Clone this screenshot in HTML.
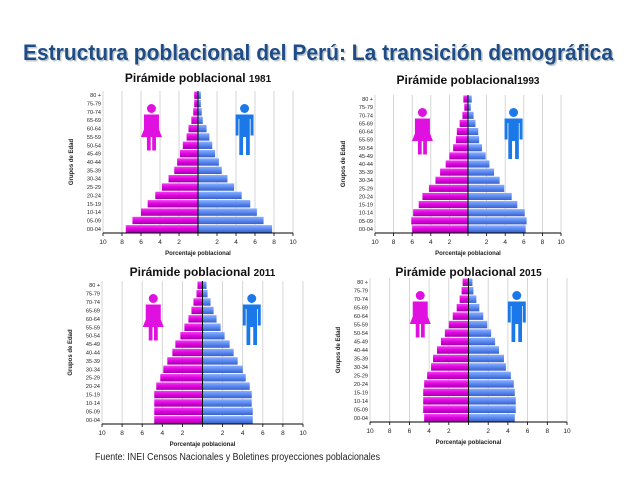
<!DOCTYPE html>
<html><head><meta charset="utf-8"><style>
html,body{margin:0;padding:0;background:#fff;}
svg{display:block;font-family:"Liberation Sans",sans-serif;}
</style></head><body>
<svg id="s" width="638" height="479" viewBox="0 0 638 479" xmlns="http://www.w3.org/2000/svg">
<defs>
<linearGradient id="gf" x1="0" y1="0" x2="0" y2="1"><stop offset="0" stop-color="#f040f0"/><stop offset="0.5" stop-color="#e000e0"/><stop offset="1" stop-color="#a000a8"/></linearGradient>
<linearGradient id="gm" x1="0" y1="0" x2="0" y2="1"><stop offset="0" stop-color="#8ab0ff"/><stop offset="0.5" stop-color="#5a88f0"/><stop offset="1" stop-color="#3a60c8"/></linearGradient>
</defs>
<text x="318" y="60" text-anchor="middle" font-size="22" font-weight="bold" fill="#9aa" opacity="0.6" textLength="590" lengthAdjust="spacingAndGlyphs" transform="translate(1.5,1.5)">Estructura poblacional del Perú: La transición demográfica</text>
<text x="318" y="60" text-anchor="middle" font-size="22" font-weight="bold" fill="#1f4c86" textLength="590" lengthAdjust="spacingAndGlyphs">Estructura poblacional del Perú: La transición demográfica</text>
<text x="95" y="460" font-size="10" fill="#222" textLength="285" lengthAdjust="spacingAndGlyphs">Fuente: INEI  Censos Nacionales y Boletines proyecciones poblacionales</text>
<g id="c"></g>
</svg>
<script>
var labels=["00-04","05-09","10-14","15-19","20-24","25-29","30-34","35-39","40-44","45-49","50-54","55-59","60-64","65-69","70-74","75-79","80 +"];
var charts=[
{t:"Pirámide poblacional ",y:"1981",L:103,R:293,top:91,bot:233,ty:82,
f:[7.6,6.9,6.0,5.3,4.5,3.8,3.1,2.5,2.2,1.9,1.6,1.2,1.0,0.7,0.5,0.4,0.4],
m:[7.8,6.9,6.2,5.5,4.6,3.8,3.1,2.5,2.2,1.8,1.5,1.2,0.9,0.5,0.4,0.3,0.3]},
{t:"Pirámide poblacional",y:"1993",L:375,R:561,top:95,bot:233,ty:84,
f:[6.0,6.1,5.9,5.3,4.9,4.2,3.5,3.0,2.4,2.0,1.6,1.3,1.2,0.9,0.6,0.4,0.5],
m:[6.2,6.3,6.1,5.3,4.7,3.9,3.4,2.8,2.3,1.9,1.5,1.2,1.1,0.8,0.6,0.3,0.4]},
{t:"Pirámide poblacional ",y:"2011",L:102,R:303,top:281,bot:424,ty:276,
f:[4.8,4.8,4.8,4.8,4.6,4.2,3.9,3.5,3.0,2.7,2.2,1.8,1.4,1.1,0.9,0.6,0.5],
m:[5.0,5.0,4.9,4.9,4.7,4.3,4.0,3.5,3.1,2.7,2.2,1.8,1.4,1.1,0.8,0.5,0.4]},
{t:"Pirámide poblacional ",y:"2015",L:370,R:567,top:278,bot:422,ty:276,
f:[4.5,4.6,4.6,4.6,4.5,4.2,3.8,3.6,3.2,2.8,2.4,2.0,1.6,1.2,0.9,0.7,0.6],
m:[4.7,4.8,4.8,4.7,4.6,4.3,3.8,3.6,3.1,2.7,2.3,1.9,1.5,1.1,0.8,0.5,0.4]}
];
var h="";
charts.forEach(function(c){
 var C=(c.L+c.R)/2, u=(c.R-c.L)/20, n=17, rh=(c.bot-c.top)/n;
 h+='<text x="'+C+'" y="'+c.ty+'" text-anchor="middle" font-size="12" font-weight="bold" fill="#111">'+c.t+'<tspan font-size="10">'+c.y+'</tspan></text>';
 for(var k=-10;k<=10;k+=2){var x=C+k*u;
  if(k!=0)h+='<line x1="'+x+'" y1="'+c.top+'" x2="'+x+'" y2="'+c.bot+'" stroke="#ccc" stroke-width="0.8"/>';
  h+='<line x1="'+x+'" y1="'+c.bot+'" x2="'+x+'" y2="'+(c.bot+3)+'" stroke="#000" stroke-width="0.8"/>';
  if(k!=0)h+='<text x="'+x+'" y="'+(c.bot+11)+'" text-anchor="middle" font-size="6.5" fill="#222">'+Math.abs(k)+'</text>';}
 for(var i=0;i<n;i++){var y=c.bot-(i+1)*rh+0.5, bh=rh-1;
  h+='<rect x="'+(C-c.f[i]*u)+'" y="'+y+'" width="'+(c.f[i]*u)+'" height="'+bh+'" fill="url(#gf)"/>';
  h+='<rect x="'+C+'" y="'+y+'" width="'+(c.m[i]*u)+'" height="'+bh+'" fill="url(#gm)"/>';
  h+='<text x="'+(c.L-2)+'" y="'+(y+bh/2+2)+'" text-anchor="end" font-size="5.5" fill="#222">'+labels[i]+'</text>';}
 h+='<line x1="'+c.L+'" y1="'+c.bot+'" x2="'+c.R+'" y2="'+c.bot+'" stroke="#000" stroke-width="1"/>';
 h+='<line x1="'+C+'" y1="'+c.top+'" x2="'+C+'" y2="'+c.bot+'" stroke="#000" stroke-width="1"/>';
 h+='<text x="'+C+'" y="'+(c.bot+22)+'" text-anchor="middle" font-size="6" font-weight="bold" fill="#222">Porcentaje poblacional</text>';
 var gx=c.L-30, gy=(c.top+c.bot)/2;
 h+='<text x="'+gx+'" y="'+gy+'" text-anchor="middle" font-size="6" font-weight="bold" fill="#222" transform="rotate(-90 '+gx+' '+gy+')">Grupos de Edad</text>';
 var fy=c.top+13, s=1.5;
 var fx=C-4.9*u;
 h+='<g fill="#e010e0" transform="translate('+fx+' '+fy+') scale('+s+')"><circle cx="0" cy="3" r="3"/><path d="M-5 7h10v10l2 5h-4v9h-2.5v-9h-1v9h-2.5v-9h-4l2-5z"/></g>';
 var mx=C+4.9*u;
 h+='<g fill="#1a78e8" transform="translate('+mx+' '+fy+') scale('+s+')"><circle cx="0" cy="3" r="3"/><path d="M-6 7h12v14h-2v-11h-0.5v24h-2.5v-12h-2v12h-2.5v-24h-0.5v11h-2z"/></g>';
});
document.getElementById("c").innerHTML=h;
</script>
</body></html>
